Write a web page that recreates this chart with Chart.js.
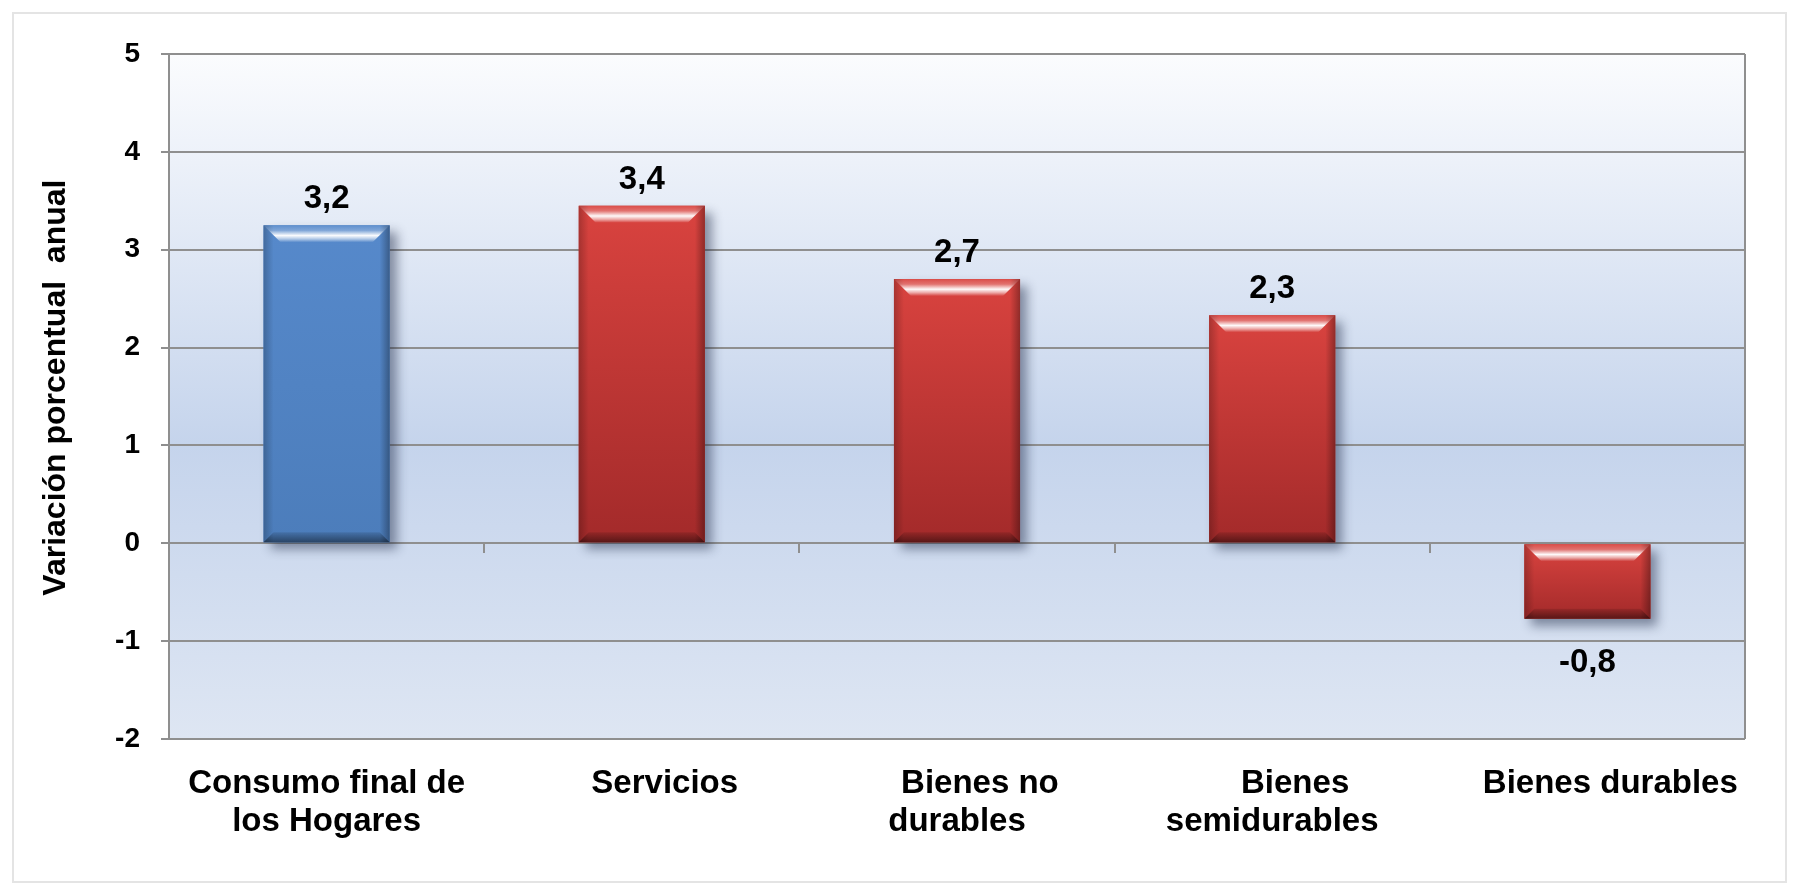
<!DOCTYPE html>
<html>
<head>
<meta charset="utf-8">
<script src="https://cdn.jsdelivr.net/npm/chart.js@4.4.1/dist/chart.umd.min.js"></script>
<style>
html, body { margin: 0; padding: 0; background: #fff; }
#marco { position: absolute; left: 12px; top: 12px; width: 1771px; height: 867px; border: 2px solid #e4e4e4; }
#contenedor { position: absolute; left: 0; top: 0; width: 1794px; height: 887px; }
</style>
</head>
<body>
<div id="marco"></div>
<div id="contenedor"><canvas id="grafico"></canvas></div>
<script>
// Datos del grafico
const categorias = [
    ['Consumo final de', 'los Hogares'],
    '     Servicios',
    ['     Bienes no', 'durables'],
    ['     Bienes', 'semidurables'],
    '     Bienes durables'
];
const variacion = [3.249, 3.449, 2.70, 2.33, -0.77];
const tipoBarra = ['azul', 'rojo', 'rojo', 'rojo', 'rojo'];
const ejeY = { min: -2, max: 5, paso: 1 };
const tituloY = '  Variación porcentual  anual';

const paleta = {
    azul: { base: '#5184C4', arriba: '#5689CB', abajo: '#4C7DBB' },
    rojo: { base: '#C0362F', arriba: '#D9433F', abajo: '#A32A2A' }
};

const FUENTE = "'Liberation Sans', Arial, sans-serif";
const GRIS = '#8f8f8f';

// Fondo degradado del area de trazado
const fondoPlugin = {
    id: 'fondo',
    beforeDraw(chart) {
        const { ctx, chartArea: a } = chart;
        const g = ctx.createLinearGradient(0, a.top, 0, a.bottom);
        g.addColorStop(0, '#fbfcfe');
        g.addColorStop(0.57, '#c5d4ec');
        g.addColorStop(1, '#dee6f3');
        ctx.save();
        ctx.fillStyle = g;
        ctx.fillRect(a.left, a.top, a.right - a.left, a.bottom - a.top);
        ctx.restore();
    },
    afterDraw(chart) {
        // linea derecha del area
        const { ctx, chartArea: a } = chart;
        ctx.save();
        ctx.strokeStyle = GRIS;
        ctx.lineWidth = 2;
        ctx.beginPath();
        ctx.moveTo(a.right, a.top);
        ctx.lineTo(a.right, a.bottom);
        ctx.stroke();
        ctx.restore();
    }
};

// Sombra de las barras
const sombraPlugin = {
    id: 'sombra',
    beforeDatasetsDraw(chart) {
        const ctx = chart.ctx;
        ctx.save();
        ctx.shadowColor = 'rgba(20, 30, 60, 0.45)';
        ctx.shadowBlur = 10;
        ctx.shadowOffsetX = 7;
        ctx.shadowOffsetY = 7;
    },
    afterDatasetsDraw(chart) {
        chart.ctx.restore();
    }
};

// Efecto biselado + etiquetas de valor
const biselPlugin = {
    id: 'bisel',
    afterDatasetsDraw(chart) {
        const ctx = chart.ctx;
        const meta = chart.getDatasetMeta(0);
        meta.data.forEach((bar, i) => {
            const col = paleta[tipoBarra[i]];
            const izq = bar.x - bar.width / 2;
            const der = bar.x + bar.width / 2;
            const arr = Math.min(bar.y, bar.base);
            const aba = Math.max(bar.y, bar.base);
            const e = 10;
            const et = 17;
            ctx.save();
            // cuerpo
            let g = ctx.createLinearGradient(0, arr, 0, aba);
            g.addColorStop(0, col.arriba);
            g.addColorStop(1, col.abajo);
            ctx.fillStyle = g;
            ctx.fillRect(izq, arr, der - izq, aba - arr);
            // bordes laterales
            g = ctx.createLinearGradient(izq, 0, izq + e, 0);
            g.addColorStop(0, 'rgba(0,0,0,0.22)');
            g.addColorStop(1, 'rgba(0,0,0,0)');
            ctx.fillStyle = g;
            ctx.fillRect(izq, arr, e, aba - arr);
            g = ctx.createLinearGradient(der - e, 0, der, 0);
            g.addColorStop(0, 'rgba(0,0,0,0)');
            g.addColorStop(1, 'rgba(0,0,0,0.32)');
            ctx.fillStyle = g;
            ctx.fillRect(der - e, arr, e, aba - arr);
            // bisel superior
            g = ctx.createLinearGradient(0, arr, 0, arr + et);
            g.addColorStop(0, 'rgba(255,255,255,0.05)');
            g.addColorStop(0.3, 'rgba(255,255,255,0.25)');
            g.addColorStop(0.6, 'rgba(255,255,255,0.97)');
            g.addColorStop(0.8, 'rgba(255,255,255,0.55)');
            g.addColorStop(1, 'rgba(255,255,255,0)');
            ctx.fillStyle = g;
            ctx.beginPath();
            ctx.moveTo(izq, arr);
            ctx.lineTo(der, arr);
            ctx.lineTo(der - et, arr + et);
            ctx.lineTo(izq + et, arr + et);
            ctx.closePath();
            ctx.fill();
            // bisel inferior
            g = ctx.createLinearGradient(0, aba - e, 0, aba);
            g.addColorStop(0, 'rgba(0,0,0,0.1)');
            g.addColorStop(1, 'rgba(0,0,0,0.45)');
            ctx.fillStyle = g;
            ctx.beginPath();
            ctx.moveTo(izq, aba);
            ctx.lineTo(der, aba);
            ctx.lineTo(der - e, aba - e);
            ctx.lineTo(izq + e, aba - e);
            ctx.closePath();
            ctx.fill();
            ctx.restore();

            // etiqueta
            const v = variacion[i];
            ctx.save();
            ctx.fillStyle = '#000';
            ctx.font = 'bold 33px ' + FUENTE;
            ctx.textAlign = 'center';
            ctx.textBaseline = 'alphabetic';
            const txt = v.toFixed(1).replace('.', ',');
            if (v >= 0) {
                ctx.fillText(txt, bar.x, bar.y - 17);
            } else {
                ctx.fillText(txt, bar.x, bar.y + 53);
            }
            ctx.restore();
        });
    }
};

new Chart(document.getElementById('grafico'), {
    type: 'bar',
    data: {
        labels: categorias,
        datasets: [{
            data: variacion,
            backgroundColor: tipoBarra.map(t => paleta[t].base),
            borderWidth: 0,
            barPercentage: 0.40,
            categoryPercentage: 1.0
        }]
    },
    options: {
        responsive: true,
        maintainAspectRatio: false,
        animation: false,
        layout: { padding: { left: 0, top: 54, right: 49, bottom: 0 } },
        plugins: {
            legend: { display: false },
            tooltip: { enabled: false }
        },
        scales: {
            x: {
                position: 'bottom',
                grid: { display: false, drawTicks: false },
                border: { display: false },
                ticks: {
                    color: '#000',
                    padding: 26,
                    maxRotation: 0,
                    autoSkip: false,
                    font: { family: FUENTE, size: 33, weight: 'bold', lineHeight: 1.15 }
                },
                afterFit(scale) { scale.height = 148; }
            },
            xCero: {
                type: 'category',
                axis: 'x',
                position: { y: 0 },
                offset: true,
                grid: { offset: true, drawOnChartArea: false, drawTicks: true, tickLength: 10, color: GRIS, lineWidth: 2 },
                border: { display: false },
                ticks: { display: false }
            },
            y: {
                min: ejeY.min,
                max: ejeY.max,
                ticks: {
                    stepSize: ejeY.paso,
                    color: '#000',
                    padding: 21,
                    font: { family: FUENTE, size: 28, weight: 'bold' }
                },
                grid: { color: GRIS, lineWidth: 2, tickLength: 8 },
                border: { color: GRIS, width: 2 },
                title: {
                    display: true,
                    text: tituloY,
                    color: '#000',
                    padding: { top: 37, bottom: 0 },
                    font: { family: FUENTE, size: 32, weight: 'bold', lineHeight: 1.2 }
                },
                afterFit(scale) { scale.width = 169; }
            }
        }
    },
    plugins: [fondoPlugin, sombraPlugin, biselPlugin]
});
</script>
</body>
</html>
